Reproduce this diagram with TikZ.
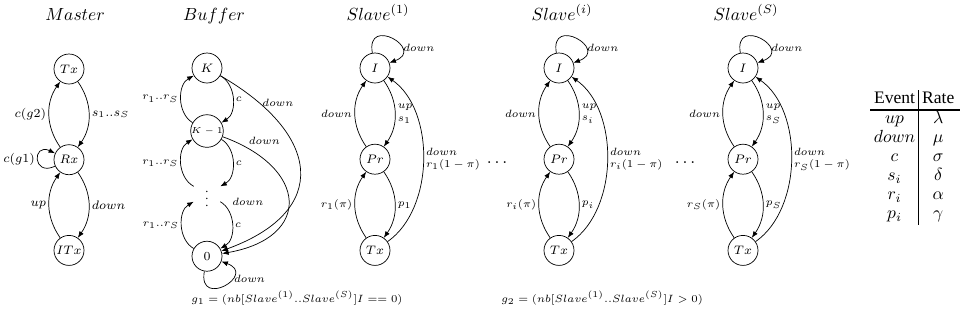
\documentclass[tikz,border=0pt]{standalone}
\usepackage{fontspec}
\setmainfont{Liberation Serif}
\usetikzlibrary{positioning,arrows.meta}

\begin{document}
\begin{tikzpicture}[
    font=\scriptsize,
    >={Latex[length=1.3mm,width=1mm]},
    state/.style={draw, circle, minimum size=6mm, inner sep=0pt},
    ghost/.style={circle, minimum size=6mm, inner sep=0pt},
    title/.style={font=\normalsize, anchor=base},
    mlbl/.style={inner sep=1.5pt},
    lbl/.style={inner sep=1.5pt, font=\fontsize{6}{7}\selectfont},
    trans/.style={->, bend left=35},
    btrans/.style={->, bend left=60},
    selfloop/.style={->, min distance=3.5mm, looseness=5},
  ]
  \useasboundingbox (0,0) rectangle (19.2,-6.4);

  % ---------------------------------------------------------------
  % Master: Tx / Rx / ITx
  % ---------------------------------------------------------------
  \node[title] (tMaster) at (1.50,-0.40) {$Master$};
  \node[state] (mTx) at (1.38,-1.38) {$Tx$};
  \node[state, below=12mm of mTx] (mRx) {$Rx$};
  \node[state, below=12mm of mRx] (mITx) {$ITx$};

  \draw[trans] (mRx) to node[mlbl, left] {$c(g2)$} (mTx);
  \draw[trans] (mTx) to node[mlbl, right] {$s_1..s_S$} (mRx);
  \draw[trans] (mITx) to node[mlbl, left] {$up$} (mRx);
  \draw[trans] (mRx) to node[mlbl, right] {$down$} (mITx);
  \draw[selfloop] (mRx) to[out=205, in=155] node[mlbl, left] {$c(g1)$} (mRx);

  % ---------------------------------------------------------------
  % Buffer: K ... 0
  % ---------------------------------------------------------------
  \node[title] (tBuffer) at (4.28,-0.40) {$Buffer$};
  \node[state] (bK) at (4.14,-1.36) {$K$};
  \node[state, below=6.2mm of bK, font=\tiny] (bK1) {$K-1$};
  \node[ghost, below=6.2mm of bK1] (bDots) {$\vdots$};
  \node[state, below=6.3mm of bDots] (b0) {$0$};

  \draw[btrans] (bK) to node[lbl, right] {$c$} (bK1);
  \draw[btrans] (bK1) to node[lbl, left] {$r_1..r_S$} (bK);
  \draw[btrans] (bK1) to node[lbl, right] {$c$} (bDots);
  \draw[btrans] (bDots) to node[lbl, left] {$r_1..r_S$} (bK1);
  \draw[btrans] (bDots) to node[lbl, right] {$c$} (b0);
  \draw[btrans] (b0) to node[lbl, left] {$r_1..r_S$} (bDots);

  \draw[->] (bK) to[out=-30, in=20, looseness=1.7]
    node[lbl, pos=0.15, right] {$down$} (b0);
  \draw[->] (bK1) to[out=-20, in=10, looseness=2]
    node[lbl, pos=0.1, above right] {$down$} (b0);
  \node[lbl] (bDown) at (4.96,-4.04) {$down$};
  \draw[selfloop, min distance=3mm] (b0) to[out=-100, in=-20]
    node[lbl, pos=0.65, right] {$down$} (b0);

  % ---------------------------------------------------------------
  % Slave^(1)
  % ---------------------------------------------------------------
  \node[title] (tSlaveA) at (7.56,-0.40) {$Slave^{(1)}$};
  \node[state] (aI) at (7.50,-1.36) {$I$};
  \node[state, below=12.1mm of aI] (aPr) {$Pr$};
  \node[state, below=12.1mm of aPr] (aTx) {$Tx$};

  \draw[selfloop] (aI) to[out=100, in=20] node[lbl, pos=0.7, right] {$down$} (aI);
  \draw[trans] (aI) to node[lbl, right, align=left] {$up$\\$s_1$} (aPr);
  \draw[trans] (aPr) to node[lbl, left] {$down$} (aI);
  \draw[trans] (aPr) to node[lbl, right] {$p_1$} (aTx);
  \draw[trans] (aTx) to node[lbl, left] {$r_1(\pi)$} (aPr);
  \draw[->] (aTx) to[out=35, in=-35, looseness=0.9]
    node[lbl, right, align=left] {$down$\\$r_1(1-\pi)$} (aI);

  \node[font=\normalsize, anchor=base] (dotsA) at (9.94,-3.26) {$\ldots$};

  % ---------------------------------------------------------------
  % Slave^(i)
  % ---------------------------------------------------------------
  \node[title] (tSlaveI) at (11.24,-0.40) {$Slave^{(i)}$};
  \node[state] (iI) at (11.18,-1.36) {$I$};
  \node[state, below=12.1mm of iI] (iPr) {$Pr$};
  \node[state, below=12.1mm of iPr] (iTx) {$Tx$};

  \draw[selfloop] (iI) to[out=100, in=20] node[lbl, pos=0.7, right] {$down$} (iI);
  \draw[trans] (iI) to node[lbl, right, align=left] {$up$\\$s_i$} (iPr);
  \draw[trans] (iPr) to node[lbl, left] {$down$} (iI);
  \draw[trans] (iPr) to node[lbl, right] {$p_i$} (iTx);
  \draw[trans] (iTx) to node[lbl, left] {$r_i(\pi)$} (iPr);
  \draw[->] (iTx) to[out=35, in=-35, looseness=0.9]
    node[lbl, right, align=left] {$down$\\$r_i(1-\pi)$} (iI);

  \node[font=\normalsize, anchor=base] (dotsB) at (13.70,-3.26) {$\ldots$};

  % ---------------------------------------------------------------
  % Slave^(S)
  % ---------------------------------------------------------------
  \node[title] (tSlaveS) at (14.92,-0.40) {$Slave^{(S)}$};
  \node[state] (sI) at (14.86,-1.36) {$I$};
  \node[state, below=12.1mm of sI] (sPr) {$Pr$};
  \node[state, below=12.1mm of sPr] (sTx) {$Tx$};

  \draw[selfloop] (sI) to[out=100, in=20] node[lbl, pos=0.7, right] {$down$} (sI);
  \draw[trans] (sI) to node[lbl, right, align=left] {$up$\\$s_S$} (sPr);
  \draw[trans] (sPr) to node[lbl, left] {$down$} (sI);
  \draw[trans] (sPr) to node[lbl, right] {$p_S$} (sTx);
  \draw[trans] (sTx) to node[lbl, left] {$r_S(\pi)$} (sPr);
  \draw[->] (sTx) to[out=35, in=-35, looseness=0.9]
    node[lbl, right, align=left] {$down$\\$r_S(1-\pi)$} (sI);

  % guards
  \node[lbl, inner sep=0pt, anchor=base west] (gOne) at (3.82,-6.04)
    {$g_1 = (nb[Slave^{(1)}..Slave^{(S)}]I == 0)$};
  \node[lbl, inner sep=0pt, anchor=base west] (gTwo) at (10.02,-6.04)
    {$g_2 = (nb[Slave^{(1)}..Slave^{(S)}]I > 0)$};

  % event / rate table
  \node[font=\normalsize, inner sep=0pt, anchor=west] (events) at (17.40,-3.15)
    {\setlength{\tabcolsep}{2pt}\renewcommand{\arraystretch}{0.9}%
     \begin{tabular}{c|c@{\hspace{7pt}}}
       Event & Rate \\ \noalign{\hrule height 0.7pt}
       $up$ & $\lambda$ \\
       $down$ & $\mu$ \\
       $c$ & $\sigma$ \\
       $s_i$ & $\delta$ \\
       $r_i$ & $\alpha$ \\
       $p_i$ & $\gamma$
     \end{tabular}};
\end{tikzpicture}
\end{document}
